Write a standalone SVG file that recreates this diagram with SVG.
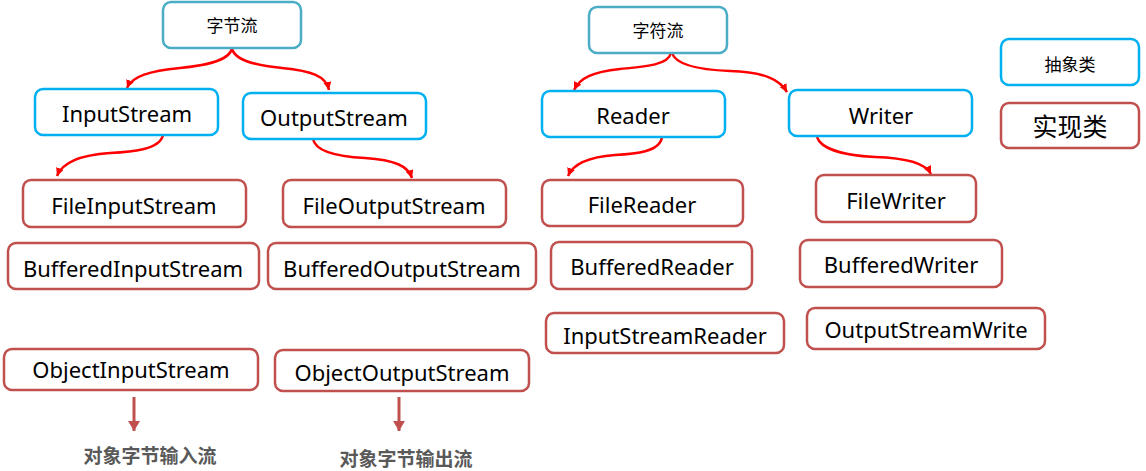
<svg xmlns="http://www.w3.org/2000/svg" width="1146" height="471" viewBox="0 0 1146 471">
<defs>
<style>
.abs{fill:#fff;stroke:#00b0f0;stroke-width:2.5}
.top{fill:#fff;stroke:#4bacc6;stroke-width:2.5}
.imp{fill:#fff;stroke:#c0504d;stroke-width:2.5}
.t{font-family:"Noto Sans","Noto Sans CJK SC",sans-serif;font-size:22px;fill:#000;text-anchor:middle}
.c{font-family:"Noto Sans CJK SC",sans-serif;font-size:17px;fill:#000;text-anchor:middle}
.lab{font-family:"Noto Sans CJK SC",sans-serif;font-size:19px;font-weight:bold;fill:#595959;text-anchor:middle}
.curve{fill:none;stroke:#ff0000;stroke-width:2.5;marker-end:url(#ah)}
.down{fill:none;stroke:#c0504d;stroke-width:3;marker-end:url(#dh)}
</style>
<marker id="ah" markerWidth="10" markerHeight="10" refX="8" refY="4" orient="auto" markerUnits="userSpaceOnUse">
<path d="M0,0 L8,4 L0,8 Z" fill="#ff0000"/>
</marker>
<marker id="dh" markerWidth="14" markerHeight="14" refX="10" refY="6" orient="auto" markerUnits="userSpaceOnUse">
<path d="M0,0 L10,6 L0,12 Z" fill="#c0504d"/>
</marker>
</defs>
<rect width="1146" height="471" fill="#fff"/>

<g id="connectors">
<path class="curve" d="M232,48 C230,62 200,66 180,68 C150,71 132,76 127,88"/>
<path class="curve" d="M232,48 C234,62 262,66 282,68 C312,71 326,76 329,90"/>
<path class="curve" d="M163,135 C160,150 130,152 110,153 C80,155 62,163 57,176"/>
<path class="curve" d="M313,139 C316,154 345,157 365,158 C395,160 408,166 412,178"/>
<path class="curve" d="M671,53 C668,66 640,67 620,69 C592,72 580,78 574,90"/>
<path class="curve" d="M672,53 C676,66 705,70 730,71 C765,72 780,80 787,92"/>
<path class="curve" d="M662,137 C660,152 635,154 615,155 C588,157 573,164 568,176"/>
<path class="curve" d="M817,137 C822,152 855,156 875,157 C910,158 926,164 931,174"/>
<path class="down" d="M134,397 L134,431"/>
<path class="down" d="M399,397 L399,431"/>
</g>

<g id="n-bytestream"><rect class="top" x="163" y="2" width="138" height="46" rx="8"/><text class="c" x="232" y="32">字节流</text></g>
<g id="n-inputstream"><rect class="abs" x="35" y="89" width="183" height="46" rx="8"/><text class="t" x="127" y="122">InputStream</text></g>
<g id="n-outputstream"><rect class="abs" x="243" y="93" width="183" height="46" rx="8"/><text class="t" x="334" y="126">OutputStream</text></g>
<g id="n-charstream"><rect class="top" x="589" y="7" width="138" height="46" rx="8"/><text class="c" x="658" y="37">字符流</text></g>
<g id="n-reader"><rect class="abs" x="542" y="91" width="183" height="46" rx="8"/><text class="t" x="633" y="124">Reader</text></g>
<g id="n-writer"><rect class="abs" x="789" y="90" width="183" height="46" rx="8"/><text class="t" x="881" y="124">Writer</text></g>
<g id="n-legend-abs"><rect class="abs" x="1001" y="39" width="138" height="46" rx="8"/><text class="c" x="1070" y="71">抽象类</text></g>
<g id="n-legend-imp"><rect class="imp" x="1001" y="103" width="138" height="45" rx="8"/><text class="c" x="1070" y="136" style="font-size:25px">实现类</text></g>

<g id="n-fileinputstream"><rect class="imp" x="23" y="180" width="223" height="47" rx="8"/><text class="t" x="134" y="214">FileInputStream</text></g>
<g id="n-fileoutputstream"><rect class="imp" x="283" y="180" width="223" height="47" rx="8"/><text class="t" x="394" y="214">FileOutputStream</text></g>
<g id="n-bufferedinputstream"><rect class="imp" x="8" y="243" width="251" height="46" rx="8"/><text class="t" x="133" y="277">BufferedInputStream</text></g>
<g id="n-bufferedoutputstream"><rect class="imp" x="268" y="243" width="268" height="46" rx="8"/><text class="t" x="402" y="277">BufferedOutputStream</text></g>
<g id="n-objectinputstream"><rect class="imp" x="4" y="349" width="254" height="41" rx="8"/><text class="t" x="131" y="378">ObjectInputStream</text></g>
<g id="n-objectoutputstream"><rect class="imp" x="275" y="350" width="254" height="41" rx="8"/><text class="t" x="402" y="381">ObjectOutputStream</text></g>

<g id="n-filereader"><rect class="imp" x="542" y="180" width="201" height="46" rx="8"/><text class="t" x="642" y="213">FileReader</text></g>
<g id="n-bufferedreader"><rect class="imp" x="551" y="242" width="201" height="47" rx="8"/><text class="t" x="652" y="275">BufferedReader</text></g>
<g id="n-inputstreamreader"><rect class="imp" x="546" y="313" width="238" height="40" rx="8"/><text class="t" x="665" y="344">InputStreamReader</text></g>
<g id="n-filewriter"><rect class="imp" x="816" y="175" width="160" height="47" rx="8"/><text class="t" x="896" y="209">FileWriter</text></g>
<g id="n-bufferedwriter"><rect class="imp" x="800" y="240" width="202" height="47" rx="8"/><text class="t" x="901" y="273">BufferedWriter</text></g>
<g id="n-outputstreamwrite"><rect class="imp" x="807" y="308" width="238" height="41" rx="8"/><text class="t" x="926" y="338">OutputStreamWrite</text></g>

<g id="n-label-in"><text class="lab" x="150" y="463">对象字节输入流</text></g>
<g id="n-label-out"><text class="lab" x="406" y="466">对象字节输出流</text></g>
</svg>
